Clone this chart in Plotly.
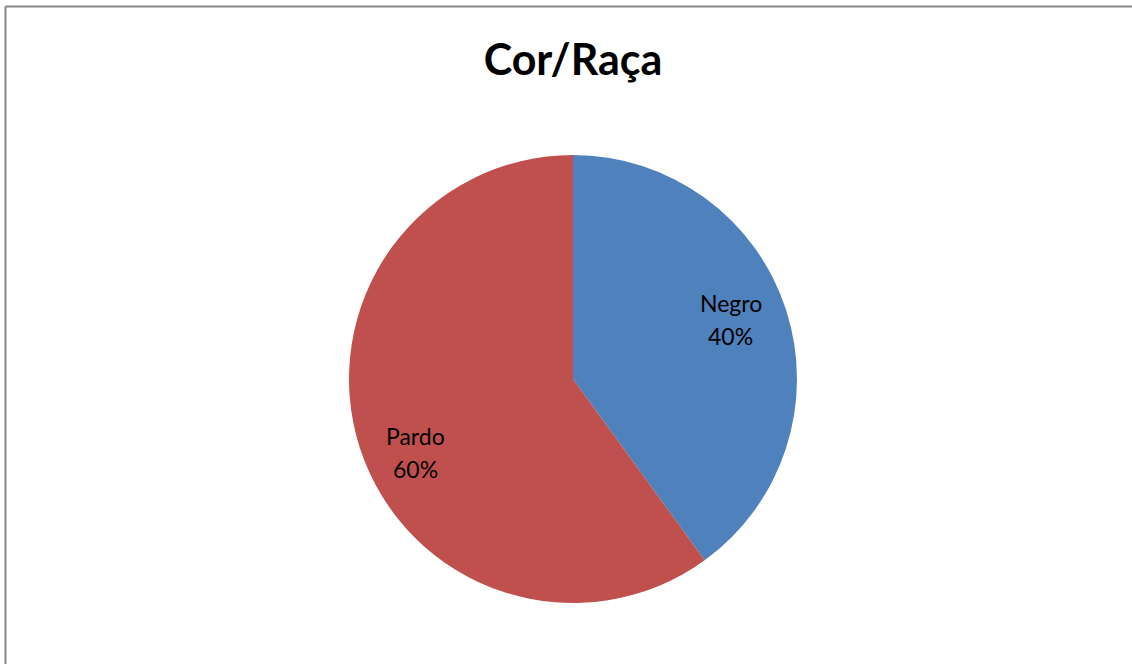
import math
import plotly.graph_objects as go

categories = ["Negro", "Pardo"]
values = [40, 60]
colors = ["#4F81BD", "#C0504D"]
title = "Cor/Raça"

W, H = 1132, 664
cx, cy, r = 573, 379, 224
# small vertical nudges (px) to mimic the original label placement
label_nudge = {"Negro": -8, "Pardo": 23}

fig = go.Figure(go.Pie(
    labels=categories,
    values=values,
    sort=False,
    direction="clockwise",
    rotation=0,
    marker=dict(colors=colors, line=dict(width=0)),
    textinfo="none",
    showlegend=False,
    hoverinfo="skip",
    domain=dict(x=[(cx - r) / W, (cx + r) / W], y=[1 - (cy + r) / H, 1 - (cy - r) / H]),
))

# label positions derived from slice mid-angles
total = sum(values)
annotations = []
start = 0.0
for lab, v in zip(categories, values):
    mid = (start + v / 2) / total * 2 * math.pi
    start += v
    px = cx + 0.74 * r * math.sin(mid)
    py = cy - 0.74 * r * math.cos(mid) + label_nudge.get(lab, 0)
    for txt, off in ((lab, -17), (f"{round(v / total * 100)}%", 16)):
        annotations.append(dict(
            text=txt, x=px / W, y=1 - (py + off) / H, xref="paper", yref="paper",
            showarrow=False, xanchor="center", yanchor="middle",
            font=dict(family="Lato", size=23, color="black"),
        ))

fig.update_layout(
    width=W, height=H,
    margin=dict(l=0, r=0, t=0, b=0),
    paper_bgcolor="white",
    title=dict(text=title, x=573 / W, xanchor="center", y=1 - 60 / H, yanchor="middle",
               font=dict(family="Lato", size=43, color="black", weight="bold")),
    annotations=annotations,
    shapes=[
        dict(type="line", xref="paper", yref="paper", x0=5.5 / W, x1=1, y0=1 - 6.5 / H, y1=1 - 6.5 / H,
             line=dict(color="#878787", width=2)),
        dict(type="line", xref="paper", yref="paper", x0=5.5 / W, x1=5.5 / W, y0=0, y1=1 - 6.5 / H,
             line=dict(color="#878787", width=2)),
    ],
)

fig.write_html("out.html", config={"displayModeBar": False},
               post_script="document.body.style.margin='0';")
